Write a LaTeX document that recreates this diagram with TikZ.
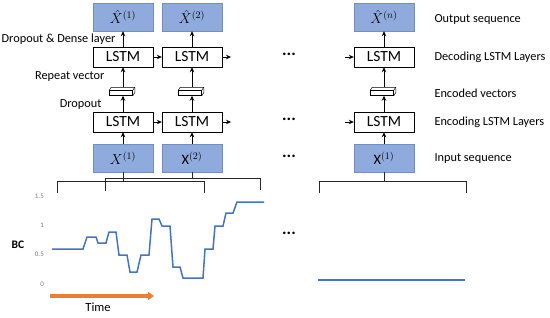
\documentclass[tikz,border=0pt]{standalone}
\usepackage{amsmath}
\usepackage{fontspec}
\setmainfont{Carlito}
\usepackage{tikz}
\usetikzlibrary{arrows.meta, positioning, calc}
\definecolor{seqblue}{RGB}{143, 170, 220}
\definecolor{seqedge}{RGB}{112, 142, 192}
\definecolor{lineblue}{RGB}{68, 114, 196}
\definecolor{timeorange}{RGB}{237, 125, 49}
\definecolor{tickgray}{RGB}{120, 120, 120}

\begin{document}
\begin{tikzpicture}[
    x=1pt, y=-1pt,
    seq/.style={rectangle, draw=seqedge, fill=seqblue, minimum width=60pt, minimum height=28pt, inner sep=0pt, font=\fontsize{14.4}{16}\selectfont},
    lstm/.style={rectangle, draw=black, fill=white, minimum width=60pt, minimum height=20pt, inner sep=0pt, font=\fontsize{15.5}{17}\selectfont},
    vec/.style={rectangle, draw=black, fill=white, minimum width=23pt, minimum height=5pt, inner sep=0pt, line width=0.5pt},
    flow/.style={-{Stealth[length=5pt, width=4.5pt]}, line width=0.8pt},
    brace/.style={line width=0.9pt, black!85},
    lbl/.style={font=\fontsize{12.3}{14}\selectfont},
    dots/.style={font=\bfseries\fontsize{17}{18}\selectfont},
    tick/.style={font=\fontsize{7}{8}\selectfont, text=tickgray, anchor=east, inner sep=0pt},
    bcline/.style={lineblue, line width=1.5pt},
    timearrow/.style={-{Triangle[length=6pt, width=8pt]}, timeorange, line width=4pt}
]
\useasboundingbox (0,0) rectangle (550,317);

% Output sequence
\node[seq] (out1) at (123,17) {$\hat{X}^{(1)}$};
\node[seq] (out2) at (192,17) {$\hat{X}^{(2)}$};
\node[seq] (outn) at (384,17) {$\hat{X}^{(n)}$};

% Decoding LSTM layer
\node[lstm] (dec1) at (123,57) {LSTM};
\node[lstm] (dec2) at (192,57) {LSTM};
\node[lstm] (decn) at (384,57) {LSTM};

% Encoded vectors
\node[vec] (vec1) at (121,93) {};
\node[vec] (vec2) at (190,93) {};
\node[vec] (vecn) at (382,93) {};
\foreach \v in {vec1, vec2, vecn} {
    \draw[line width=0.5pt] (\v.north west) -- ++(2,-3) -- ([shift={(2,-3)}]\v.north east)
        -- ([shift={(2,-3)}]\v.south east) -- (\v.south east);
    \draw[line width=0.5pt] ([shift={(2,-3)}]\v.north east) -- (\v.north east);
}

% Encoding LSTM layer
\node[lstm] (enc1) at (123,122) {LSTM};
\node[lstm] (enc2) at (192,122) {LSTM};
\node[lstm] (encn) at (384,122) {LSTM};

% Input sequence
\node[seq] (in1) at (123,158) {$X^{(1)}$};
\node[seq] (in2) at (192,158) {$\mathrm{X}^{(2)}$};
\node[seq] (inn) at (384,158) {$\mathrm{X}^{(1)}$};

% Vertical flow
\foreach \c in {1, 2, n} {
    \draw[flow] (dec\c) -- (out\c);
    \draw[flow] ([yshift=3pt]vec\c.north -| dec\c) -- (dec\c);
    \draw[flow] (enc\c) -- (vec\c.south -| enc\c);
    \draw[flow] (in\c) -- (enc\c);
}

% Recurrent links
\coordinate (decout) at (231,57);
\coordinate (decin) at (345,57);
\coordinate (encout) at (231,122);
\coordinate (encin) at (345,122);
\draw[flow] (dec1) -- (dec2);
\draw[flow] (dec2) -- (decout);
\draw[flow] (decin) -- (decn);
\draw[flow] (enc1) -- (enc2);
\draw[flow] (enc2) -- (encout);
\draw[flow] (encin) -- (encn);

% Labels
\node[lbl, anchor=east] (densel) at (119,39) {Dropout \& Dense layer};
\node[lbl, anchor=east] (repeatl) at (108,77) {Repeat vector};
\node[lbl, anchor=east] (dropl) at (105,105) {Dropout};
\node[lbl, anchor=west] (outl) at (431,19) {Output sequence};
\node[lbl, anchor=west] (decl) at (431,57) {Decoding LSTM Layers};
\node[lbl, anchor=west] (vecl) at (431,93) {Encoded vectors};
\node[lbl, anchor=west] (encl) at (431,122) {Encoding LSTM Layers};
\node[lbl, anchor=west] (inl) at (431,159) {Input sequence};

\node[dots] (dots1) at (289,54) {...};
\node[dots] (dots2) at (289,119) {...};
\node[dots] (dots3) at (289,156) {...};
\node[dots] (dots4) at (289,233) {...};

% Windows
\coordinate (win1) at (123,181);
\coordinate (win2) at (192,178);
\coordinate (winn) at (384,181);
\draw[brace] (in1) -- (win1);
\draw[brace] (57,193) |- (204,181) -- (204,193);
\draw[brace] (in2) -- (win2);
\draw[brace] (105,191) |- (260,178) -- (260,190);
\draw[brace] (inn) -- (winn);
\draw[brace] (319,193) |- (466,181) -- (466,193);

% BC series
\node[tick] (t15) at (44,196) {1.5};
\node[tick] (t10) at (44,225) {1};
\node[tick] (t05) at (44,254) {0.5};
\node[tick] (t00) at (44,284) {0};
\node[font=\bfseries\fontsize{11.5}{13}\selectfont] (bc) at (18,245) {BC};

\draw[bcline] plot coordinates {(52,249) (83,249) (87,237) (96,237) (98,243) (106,243)
    (109,232) (116,232) (119,255) (127,255) (130,272) (137,272) (141,255) (149,255)
    (152,219) (159,219) (162,226) (170,226) (173,267) (180,267) (183,278) (203,278)
    (205,249) (213,249) (215,226) (223,226) (226,213) (233,213) (237,202) (264,202)};
\draw[bcline] (318,280) -- (465,280);

% Time axis
\coordinate (tstart) at (50,296);
\coordinate (tend) at (154,296);
\draw[timearrow] (tstart) -- (tend);
\node[font=\fontsize{12.5}{14}\selectfont] (time) at (98,307) {Time};
\end{tikzpicture}
\end{document}
